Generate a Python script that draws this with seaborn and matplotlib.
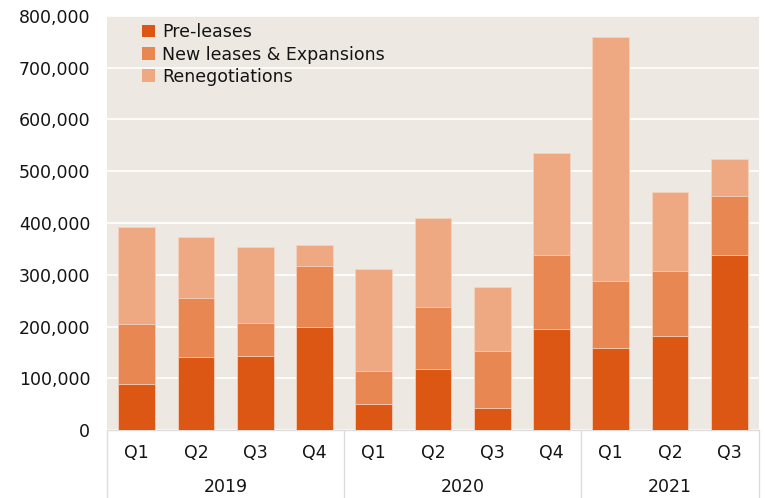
import matplotlib
matplotlib.use("Agg")
import matplotlib.pyplot as plt
import matplotlib.transforms as mtransforms
import numpy as np
import pandas as pd
import seaborn as sns

# Quarterly leasing activity (sq ft)
years = ["2019", "2019", "2019", "2019", "2020", "2020", "2020", "2020", "2021", "2021", "2021"]
quarters = ["Q1", "Q2", "Q3", "Q4", "Q1", "Q2", "Q3", "Q4", "Q1", "Q2", "Q3"]
pre_leases = [89000, 141000, 142500, 199000, 51000, 118000, 43000, 195000, 158500, 182500, 338000]
new_leases = [116000, 114000, 63500, 117000, 63000, 119500, 109000, 143000, 129500, 124500, 113500]
renegotiations = [187500, 118000, 148500, 41000, 197000, 172500, 123500, 197000, 472000, 153500, 72500]

series_names = ["Pre-leases", "New leases & Expansions", "Renegotiations"]
colors = ["#DC5614", "#E88752", "#EFA982"]

labels = [f"{y} {q}" for y, q in zip(years, quarters)]
df = pd.DataFrame({
    "period": labels,
    "Pre-leases": pre_leases,
    "New leases & Expansions": new_leases,
    "Renegotiations": renegotiations,
})
cum = df[series_names].cumsum(axis=1)

sns.set_theme(style="white")
plt.rcParams["font.family"] = ["DejaVu Sans"]
text_color = "#141414"

fig = plt.figure(figsize=(7.65, 4.98), dpi=100)
ax = fig.add_axes([0.1399, 0.1365, 0.9922 - 0.1399, 0.9679 - 0.1365])
ax.set_facecolor("#EDE8E2")

# Stacked bars: draw cumulative totals from the top layer down
for name, color in reversed(list(zip(series_names, colors))):
    sns.barplot(x=df["period"], y=cum[name], order=labels, color=color,
                width=0.62, saturation=1, ax=ax, label=name,
                edgecolor="#F3D2BD", linewidth=0.6, zorder=3)

ax.set_ylim(0, 800000)
ax.set_xlim(-0.5, len(labels) - 0.5)
yt = np.arange(0, 800001, 100000)
ax.set_yticks(yt)
ax.set_yticklabels([f"{v:,.0f}" for v in yt])
ax.yaxis.grid(True, color="white", linewidth=1.2, zorder=0)
ax.set_axisbelow(True)
for s in ax.spines.values():
    s.set_visible(False)
ax.set_xlabel("")
ax.set_ylabel("")
ax.tick_params(axis="y", length=0, pad=12, labelsize=12.5, labelcolor=text_color)
ax.tick_params(axis="x", length=0, pad=10, labelsize=12.5, labelcolor=text_color)
ax.set_xticks(range(len(labels)))
ax.set_xticklabels(quarters)

# Year groups under the quarter labels, with separators between them
trans = mtransforms.blended_transform_factory(ax.transData, ax.transAxes)
line_kw = dict(color="#DCDCDC", linewidth=1.0, clip_on=False, transform=trans)
ax.plot([-0.5, len(labels) - 0.5], [0, 0], **line_kw)
group_edges = [-0.5, 3.5, 7.5, 10.5]
for xe in group_edges:
    ax.plot([xe, xe], [0, -0.2], **line_kw)
for yr, (a, b) in zip(["2019", "2020", "2021"], zip(group_edges[:-1], group_edges[1:])):
    ax.text((a + b) / 2, -0.137, yr, transform=trans, ha="center", va="center",
            fontsize=12.5, color=text_color)

# Legend in reading order (Pre-leases on top)
handles, lbls = ax.get_legend_handles_labels()
order = [lbls.index(n) for n in series_names]
leg = ax.legend([handles[i] for i in order], [lbls[i] for i in order],
                loc="upper left", bbox_to_anchor=(0.035, 1.012), frameon=False,
                fontsize=12.5, handlelength=0.75, handleheight=0.75,
                handletextpad=0.4, labelspacing=0.25, borderaxespad=0.3,
                labelcolor=text_color)
for h in leg.legend_handles:
    h.set_edgecolor("none")

fig.savefig("out.png", dpi=100)
